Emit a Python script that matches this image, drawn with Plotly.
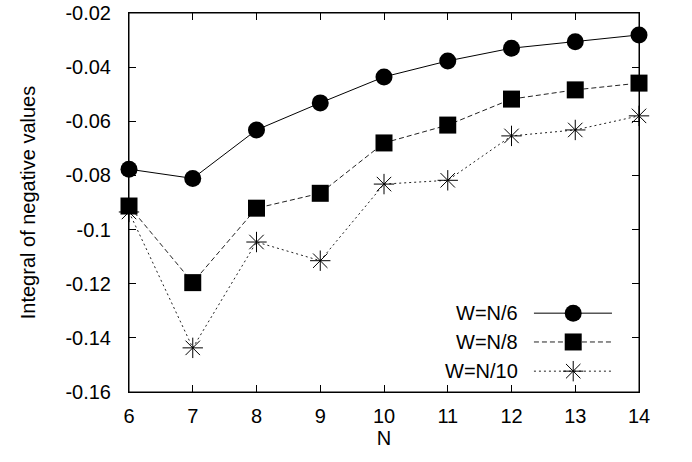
import plotly.graph_objects as go

N = [6, 7, 8, 9, 10, 11, 12, 13, 14]
w6 = [-0.0777, -0.0811, -0.0632, -0.0532, -0.0436, -0.0377, -0.0330, -0.0306, -0.0281]
w8 = [-0.0913, -0.1196, -0.0921, -0.0866, -0.0680, -0.0614, -0.0518, -0.0484, -0.0459]
w10 = [-0.0935, -0.1437, -0.1046, -0.1115, -0.0832, -0.0818, -0.0654, -0.0632, -0.0580]
names = ["W=N/6", "W=N/8", "W=N/10"]
yticks = [-0.02, -0.04, -0.06, -0.08, -0.1, -0.12, -0.14, -0.16]
ytext = ["-0.02", "-0.04", "-0.06", "-0.08", "-0.1", "-0.12", "-0.14", "-0.16"]

FS = 20
styles = [
    dict(symbol="circle", size=17, dash="solid", color="black", lw=1),
    dict(symbol="square", size=17, dash="5px,3px", color="#222", lw=1),
    dict(symbol="asterisk-open", size=17, dash="2px,3px", color="#222", lw=1),
]
series = [w6, w8, w10]

fig = go.Figure()
for i, (s, st, nm) in enumerate(zip(series, styles, names)):
    mk = dict(symbol=st["symbol"], size=st["size"], color="black")
    if st["symbol"].startswith("asterisk"):
        mk["line"] = dict(color="black", width=1)
    fig.add_trace(go.Scatter(x=N, y=s, mode="lines+markers", name=nm,
                             xaxis="x3" if i == 0 else "x",
                             line=dict(color=st["color"], width=st["lw"], dash=st["dash"]),
                             marker=mk, showlegend=False, cliponaxis=False))

# custom gnuplot-style legend (text left, sample right)
rows = [0.208, 0.132, 0.055]
for st, nm, ry in zip(styles, names, rows):
    mk = dict(symbol=st["symbol"], size=st["size"], color="black")
    if st["symbol"].startswith("asterisk"):
        mk["line"] = dict(color="black", width=1)
    fig.add_trace(go.Scatter(x=[0.794, 0.871, 0.947], y=[ry, ry, ry], xaxis="x2", yaxis="y2",
                             mode="lines", line=dict(color=st["color"], width=st["lw"], dash=st["dash"]),
                             showlegend=False, hoverinfo="skip"))
    fig.add_trace(go.Scatter(x=[0.871], y=[ry], xaxis="x2", yaxis="y2", mode="markers",
                             marker=mk, showlegend=False, hoverinfo="skip"))
    fig.add_annotation(x=0.767, y=ry, xref="paper", yref="paper", text=nm, showarrow=False,
                       xanchor="right", yanchor="middle", font=dict(size=FS, color="black"))

axis_common = dict(showgrid=False, zeroline=False, showline=True, linecolor="black", linewidth=1,
                   mirror="ticks", ticks="inside", ticklen=7, tickcolor="black", tickwidth=1,
                   tickfont=dict(size=FS, color="black"), automargin=False)

fig.update_layout(
    width=692, height=462,
    margin=dict(l=129, r=53, t=13, b=70),
    paper_bgcolor="white", plot_bgcolor="white",
    font=dict(family="Liberation Sans, Arial, sans-serif", size=FS, color="black"),
    xaxis=dict(range=[6, 14], tickvals=N, ticklabelstandoff=6,
               title=dict(text="N", standoff=4, font=dict(size=FS)), **axis_common),
    yaxis=dict(range=[-0.16, -0.02], tickvals=yticks, ticktext=ytext, ticklabelstandoff=13,
               title=dict(text="Integral of negative values", standoff=24, font=dict(size=FS)), **axis_common),
    xaxis3=dict(range=[6, 14], overlaying="x", side="top", tickvals=N, showticklabels=False,
                showgrid=False, zeroline=False, showline=True, linecolor="black", linewidth=1,
                ticks="inside", ticklen=7, tickcolor="black", tickwidth=1, automargin=False),
    xaxis2=dict(range=[0, 1], overlaying="x", visible=False, domain=[0, 1]),
    yaxis2=dict(range=[0, 1], overlaying="y", visible=False),
    shapes=[dict(type="rect", xref="paper", yref="paper", x0=0, x1=1, y0=0, y1=1,
                 line=dict(color="black", width=1), layer="above")],
)
fig.write_html("out.html", config={"displayModeBar": False},
               post_script="document.body.style.margin='0';document.body.style.overflow='hidden';")
